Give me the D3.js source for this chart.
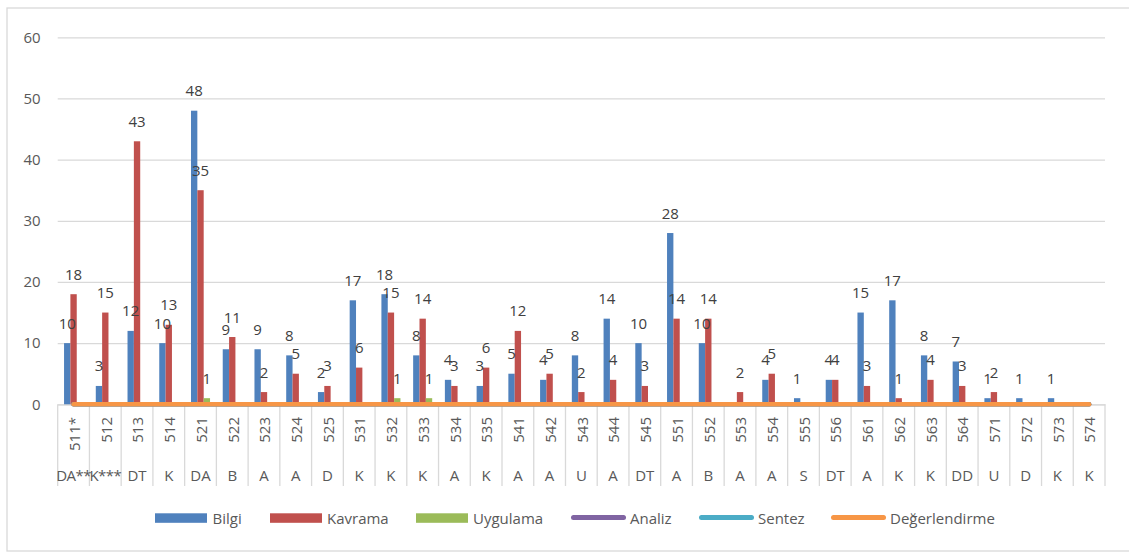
<!DOCTYPE html>
<html><head><meta charset="utf-8">
<script src="https://cdn.jsdelivr.net/npm/d3@7"></script>
<style>
html,body{margin:0;padding:0;background:#fff;}
svg text{font-family:"Open Sans","Noto Sans",sans-serif;}
</style></head>
<body>
<svg id="chart" width="1129" height="552"></svg>
<script>
const codes = ["511*","512","513","514","521","522","523","524","525","531","532","533","534","535","541","542","543","544","545","551","552","553","554","555","556","561","562","563","564","571","572","573","574"];
const groups = ["DA**","K***","DT","K","DA","B","A","A","D","K","K","K","A","K","A","A","U","A","DT","A","B","A","A","S","DT","A","K","K","DD","U","D","K","K"];
const bilgi = [10,3,12,10,48,9,9,8,2,17,18,8,4,3,5,4,8,14,10,28,10,0,4,1,4,15,17,8,7,1,1,1,0];
const kavrama = [18,15,43,13,35,11,2,5,3,6,15,14,3,6,12,5,2,4,3,14,14,2,5,0,4,3,1,4,3,2,0,0,0];
const uygulama = [0,0,0,0,1,0,0,0,0,0,1,1,0,0,0,0,0,0,0,0,0,0,0,0,0,0,0,0,0,0,0,0,0];
const analiz = [0,0,0,0,0,0,0,0,0,0,0,0,0,0,0,0,0,0,0,0,0,0,0,0,0,0,0,0,0,0,0,0,0];
const sentez = [0,0,0,0,0,0,0,0,0,0,0,0,0,0,0,0,0,0,0,0,0,0,0,0,0,0,0,0,0,0,0,0,0];
const degerlendirme = [0,0,0,0,0,0,0,0,0,0,0,0,0,0,0,0,0,0,0,0,0,0,0,0,0,0,0,0,0,0,0,0,0];
const yTicks = [0,10,20,30,40,50,60];

const barSeries = [
  {name:"Bilgi", values:bilgi, color:"#4f81bd"},
  {name:"Kavrama", values:kavrama, color:"#c0504d"},
  {name:"Uygulama", values:uygulama, color:"#9bbb59"}
];
const lineSeries = [
  {name:"Analiz", values:analiz, color:"#8064a2"},
  {name:"Sentez", values:sentez, color:"#4bacc6"},
  {name:"Değerlendirme", values:degerlendirme, color:"#f79646"}
];

(function(){
const svg = d3.select("#chart");
const pL = 57.7, pR = 1105, pT = 37.3, pB = 404.3;
const fs = 15;

// outer border
svg.append("rect").attr("x",7).attr("y",8).attr("width",1140).attr("height",543)
  .attr("fill","none").attr("stroke","#d9d9d9").attr("stroke-width",1.3);

const x = d3.scaleBand().domain(codes).range([pL,pR]).paddingInner(0).paddingOuter(0);
const xs = d3.scaleBand().domain(barSeries.map(s=>s.name)).range([0,x.bandwidth()]).paddingInner(0).paddingOuter(1.0);
const y = d3.scaleLinear().domain([0,60]).range([pB,pT]);

// gridlines + y labels
const yAxis = d3.axisLeft(y).tickValues(yTicks).tickSize(-(pR-pL)).tickPadding(17);
const ga = svg.append("g").attr("transform",`translate(${pL},0)`).call(yAxis);
ga.select(".domain").remove();
ga.selectAll(".tick line").attr("stroke","#d9d9d9").attr("stroke-width",1.3);
ga.selectAll(".tick text").attr("fill","#595959").style("font-size",fs+"px");

// x axis: baseline and separators
const xAxis = d3.axisBottom(x).tickSize(0).tickFormat("");
const gx = svg.append("g").attr("transform",`translate(0,${pB})`).call(xAxis);
gx.select(".domain").attr("stroke","#d9d9d9").attr("stroke-width",1.3);
const seps = codes.map(c=>x(c)).concat([pR]);
svg.append("g").selectAll("line").data(seps).join("line")
  .attr("x1",d=>d).attr("x2",d=>d).attr("y1",pB).attr("y2",486)
  .attr("stroke","#d9d9d9").attr("stroke-width",1.3);

// category labels
svg.append("g").selectAll("text").data(codes).join("text")
  .attr("transform",d=>`translate(${x(d)+x.bandwidth()/2+1},417) rotate(-90)`)
  .attr("text-anchor","end").attr("dy","0.35em")
  .attr("fill","#595959").style("font-size",fs+"px").text(d=>d);
svg.append("g").selectAll("text").data(groups).join("text")
  .attr("x",(d,i)=>x(codes[i])+x.bandwidth()/2).attr("y",481)
  .attr("text-anchor","middle").attr("fill","#595959").style("font-size",fs+"px")
  .style("letter-spacing",d=>d.length>3?"-0.6px":null).text(d=>d);

// bars
const bg = svg.append("g");
barSeries.forEach(s=>{
  bg.append("g").selectAll("rect").data(s.values).join("rect")
    .attr("x",(d,i)=>x(codes[i])+xs(s.name))
    .attr("width",xs.bandwidth())
    .attr("y",d=>y(d)).attr("height",d=>y(0)-y(d))
    .attr("fill",s.color);
});

// lines (zero series)
const line = d3.line().x((d,i)=>x(codes[i])+x.bandwidth()/2).y(d=>y(d));
lineSeries.forEach(s=>{
  svg.append("path").datum(s.values).attr("d",line)
    .attr("fill","none").attr("stroke",s.color).attr("stroke-width",4.6)
    .attr("stroke-linecap","round");
});

// value labels
const lg = svg.append("g");
barSeries.forEach(s=>{
  lg.append("g").selectAll("text").data(s.values.map((v,i)=>({v,i})).filter(d=>d.v!==0)).join("text")
    .attr("x",d=>x(codes[d.i])+xs(s.name)+xs.bandwidth()/2)
    .attr("y",d=>y(d.v)-14.5)
    .attr("text-anchor","middle").attr("fill","#404040").style("font-size",fs+"px")
    .text(d=>d.v);
});

// legend
const leg = svg.append("g");
const legItems = [
  {s:barSeries[0], type:"rect", x0:155, tx:212.5},
  {s:barSeries[1], type:"rect", x0:270, tx:327},
  {s:barSeries[2], type:"rect", x0:416, tx:473},
  {s:lineSeries[0], type:"line", x0:571, tx:630},
  {s:lineSeries[1], type:"line", x0:699, tx:758},
  {s:lineSeries[2], type:"line", x0:831, tx:890}
];
legItems.forEach(it=>{
  if(it.type==="rect"){
    leg.append("rect").attr("x",it.x0).attr("y",513.3).attr("width",52).attr("height",9.5).attr("fill",it.s.color);
  } else {
    leg.append("line").attr("x1",it.x0+2.5).attr("x2",it.x0+52.5).attr("y1",517.5).attr("y2",517.5)
      .attr("stroke",it.s.color).attr("stroke-width",5).attr("stroke-linecap","round");
  }
  leg.append("text").attr("x",it.tx).attr("y",524).attr("fill","#595959").style("font-size",fs+"px").text(it.s.name);
});
})();
</script>
</body></html>
